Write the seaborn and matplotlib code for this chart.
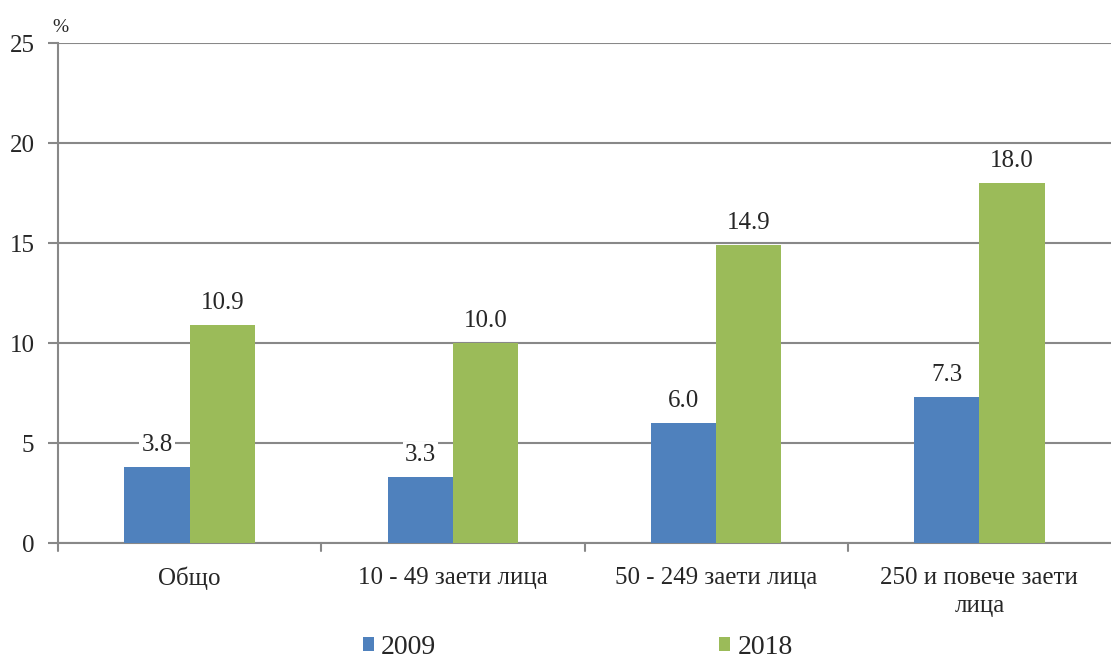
import matplotlib
matplotlib.use("Agg")
import matplotlib.pyplot as plt
import seaborn as sns
import pandas as pd
from matplotlib.patches import Patch

categories = ["Общо", "10 - 49 заети лица", "50 - 249 заети лица", "250 и повече заети\nлица"]
series_names = ["2009", "2018"]
values_2009 = [3.8, 3.3, 6.0, 7.3]
values_2018 = [10.9, 10.0, 14.9, 18.0]
y_ticks = [0, 5, 10, 15, 20, 25]
colors = ["#4f81bd", "#9bbb59"]

sns.set_theme(style="white")
plt.rcParams['font.family'] = ['Liberation Serif', 'DejaVu Serif']

df = pd.DataFrame({
    "cat": categories * 2,
    "year": [series_names[0]] * 4 + [series_names[1]] * 4,
    "val": values_2009 + values_2018,
})

fig = plt.figure(figsize=(11.11, 6.62), dpi=100)
ax = fig.add_axes([58/1111, 1 - 543/662, 1 - 58/1111, 500/662])
sns.barplot(data=df, x="cat", y="val", hue="year", palette=colors, width=0.495,
            ax=ax, legend=False, saturation=1, zorder=3, linewidth=0)

ax.set_ylim(0, 25)
ax.set_xlim(-0.5, 3.5)
ax.set_yticks(y_ticks)
ax.set_yticklabels([str(t) for t in y_ticks], fontsize=18)
ax.yaxis.grid(True, color="#888888", linewidth=1.5, zorder=0)
ax.set_axisbelow(True)
ax.set_xlabel("")
ax.set_ylabel("")
for s in ["top", "right"]:
    ax.spines[s].set_visible(False)
for s in ["left", "bottom"]:
    ax.spines[s].set_color("#888888")
    ax.spines[s].set_linewidth(1.5)

ax.set_xticks([0, 1, 2, 3])
ax.set_xticklabels(categories, fontsize=18, linespacing=1.4)
ax.tick_params(axis="x", length=0, pad=17)
ax.tick_params(axis="y", length=7, color="#888888", width=1.5, left=True, pad=10)
for xb in [-0.5, 0.5, 1.5, 2.5]:
    ax.plot([xb, xb], [0, -0.4], color="#888888", lw=1.5, clip_on=False)

for container in ax.containers:
    ax.bar_label(container, fmt="%.1f", padding=8, fontsize=18,
                 bbox=dict(facecolor="white", edgecolor="none", pad=1.5))

ax.text(-0.005, 1.015, "%", transform=ax.transAxes, fontsize=14, ha="left", va="bottom")

handles = [Patch(facecolor=c, edgecolor="none") for c in colors]
fig.legend(handles, series_names, loc="lower center", ncol=2, bbox_to_anchor=(0.52, -0.034),
           frameon=False, fontsize=20, handlelength=0.4, handleheight=0.4,
           handletextpad=0.25, columnspacing=10.2)

fig.savefig("out.png", dpi=100)
